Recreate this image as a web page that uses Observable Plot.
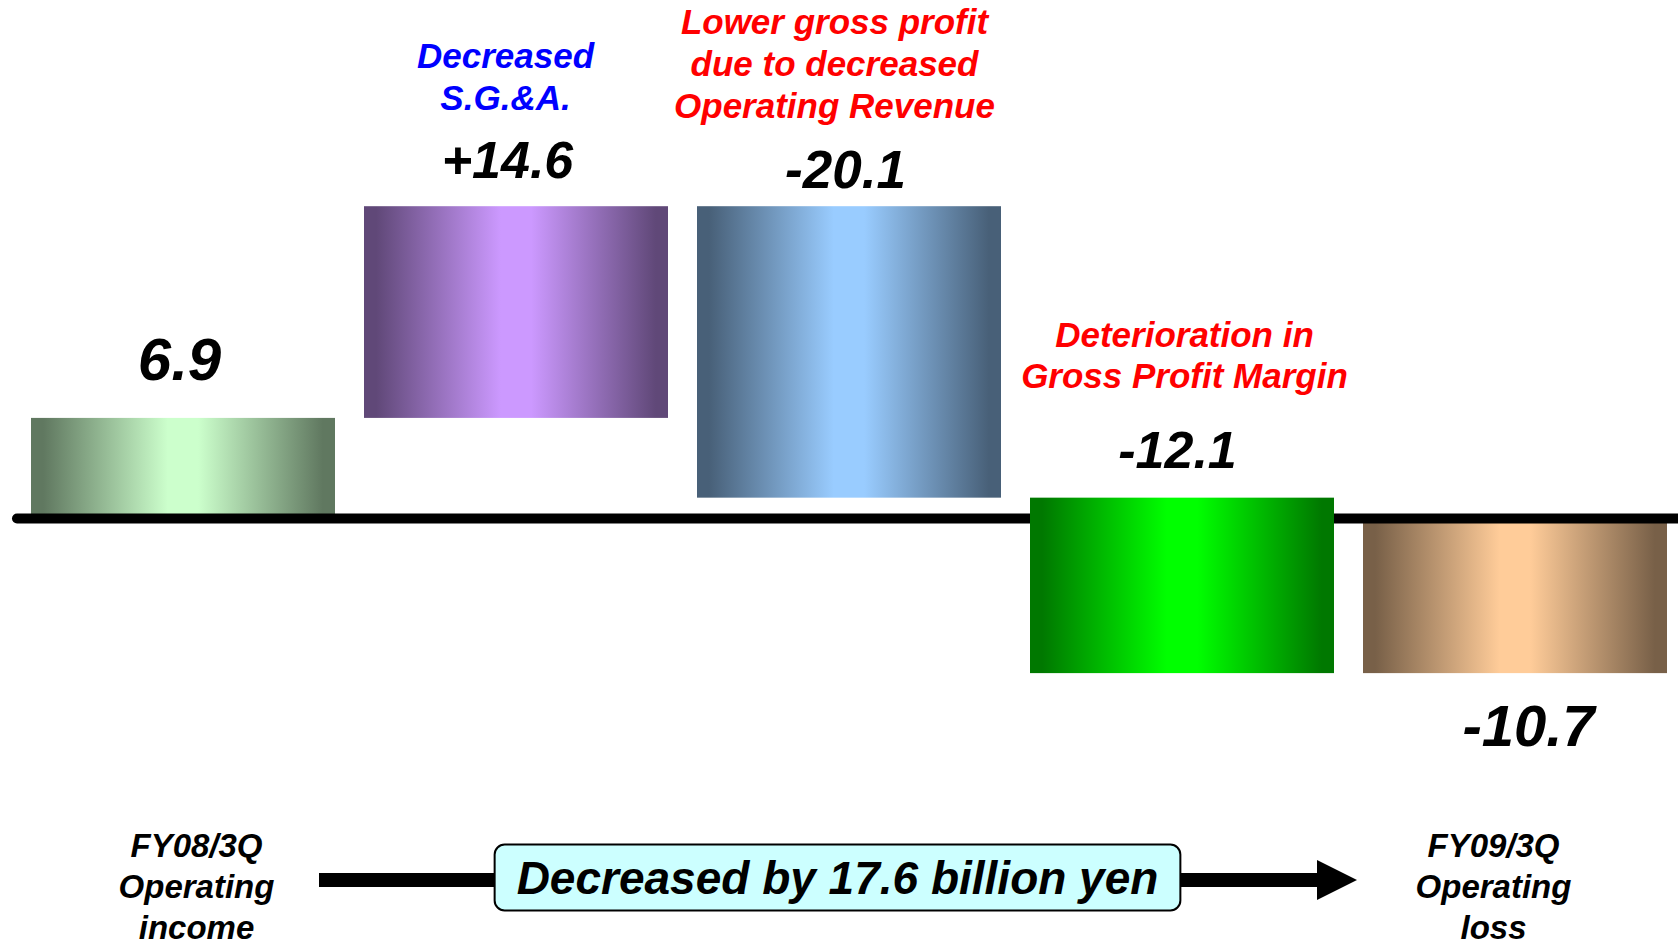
<!DOCTYPE html>
<html>
<head>
<meta charset="utf-8">
<script src="https://cdn.jsdelivr.net/npm/d3@7"></script>
<script src="https://cdn.jsdelivr.net/npm/@observablehq/plot@0.6"></script>
<style>
  html, body { margin: 0; padding: 0; background: #fff; }
  #chart svg { display: block; }
</style>
</head>
<body>
<div id="chart"></div>
<script>
// Operating income bridge, FY08/3Q -> FY09/3Q (billion yen)
const steps = [
  "FY08/3Q\nOperating\nincome",
  "Decreased\nS.G.&A.",
  "Lower gross profit\ndue to decreased\nOperating Revenue",
  "Deterioration in\nGross Profit Margin",
  "FY09/3Q\nOperating\nloss"
];
const amounts = [6.9, 14.6, -20.1, -12.1, -10.7];
const kinds = ["total", "change", "change", "change", "total"];
const valueLabels = ["6.9", "+14.6", "-20.1", "-12.1", "-10.7"];
const barColors = ["#ccffcc", "#cc99ff", "#99ccff", "#00ff00", "#ffcc99"];
const summary = "Decreased by 17.6 billion yen";

// Waterfall: totals start at zero, changes start where the previous bar ended
let running = 0;
const bars = steps.map((step, i) => {
  const isTotal = kinds[i] === "total";
  const start = isTotal ? 0 : running;
  const end = isTotal ? amounts[i] : running + amounts[i];
  running = end;
  return {
    step, kind: kinds[i], start, end,
    top: Math.max(start, end), bottom: Math.min(start, end),
    label: valueLabels[i], grad: `url(#wf-grad-${i})`
  };
});

const font = {fontFamily: "'Liberation Sans', Arial, sans-serif", fontWeight: "bold", fontStyle: "italic"};

// Cylinder-like shading: dark edges, light centre
function shade(c, k) {
  const r = d3.rgb(c);
  return d3.rgb(r.r * k, r.g * k, r.b * k).formatHex();
}
function gradientDefs() {
  const g = d3.create("svg:g");
  const defs = g.append("defs");
  barColors.forEach((c, i) => {
    const dark = shade(c, 0.47);
    const lg = defs.append("linearGradient")
      .attr("id", `wf-grad-${i}`).attr("x1", 0).attr("x2", 1).attr("y1", 0).attr("y2", 0);
    [[0, dark], [0.04, dark], [0.45, c], [0.55, c], [0.96, dark], [1, dark]].forEach(([o, col]) =>
      lg.append("stop").attr("offset", o).attr("stop-color", col));
  });
  return g.node();
}

// Value label above or below a bar
function valueLabel(i, where, dx, dy, fontSize) {
  return Plot.text([bars[i]], {
    x: "step", y: where, text: "label",
    dx, dy, fontSize, lineAnchor: "bottom", fill: "#000", ...font
  });
}

// Explanatory note above a change bar, using the step name
function note(i, fill, dx, dy) {
  return Plot.text([bars[i]], {
    x: "step", y: "top", text: "step",
    dx, dy, fontSize: 35, lineHeight: 1.19, lineAnchor: "bottom", fill, ...font
  });
}

// Period label under a total bar
function periodLabel(i, dx) {
  return Plot.text([bars[i]], {
    x: "step", text: "step", frameAnchor: "bottom",
    dx, dy: -7, fontSize: 33, lineHeight: 1.24, lineAnchor: "bottom", fill: "#000", ...font
  });
}

// Long arrow from the first period to the last one
function periodArrow(index, scales, values, dims) {
  const x = scales.x;
  const bw = x.bandwidth();
  const x0 = x(steps[0]) + bw / 2 + 136;
  const tip = x(steps[steps.length - 1]) + bw / 2 - 158;
  const y = dims.height - 65;
  const g = d3.create("svg:g");
  g.append("line")
    .attr("x1", x0).attr("x2", tip - 36).attr("y1", y).attr("y2", y)
    .attr("stroke", "#000").attr("stroke-width", 14);
  g.append("path")
    .attr("d", `M${tip},${y}L${tip - 40},${y - 20}L${tip - 40},${y + 20}Z`)
    .attr("fill", "#000");
  return g.node();
}

const plot = Plot.plot({
  width: 1678,
  height: 945,
  marginTop: 0, marginRight: 0, marginBottom: 0, marginLeft: 0,
  style: {background: "#fff"},
  x: {type: "band", domain: steps, range: [30, 1668], paddingInner: 0.0885, paddingOuter: 0, axis: null},
  y: {domain: [-29.45, 35.72], axis: null},
  color: {type: "identity"},
  marks: [
    gradientDefs,
    Plot.barY(bars.filter(d => d.kind === "total"), {x: "step", y1: "start", y2: "end", fill: "grad"}),
    Plot.ruleY([0], {stroke: "#000", strokeWidth: 10, strokeLinecap: "round", insetLeft: 17}),
    Plot.barY(bars.filter(d => d.kind === "change"), {x: "step", y1: "start", y2: "end", fill: "grad"}),

    valueLabel(0, "top", -4, -38, 60),
    valueLabel(1, "top", -9, -29, 52),
    valueLabel(2, "top", -4, -19, 53),
    valueLabel(3, "top", -5, -30, 52),
    valueLabel(4, "bottom", 13, 72, 58),

    note(1, "#0000ff", -11, -97),
    note(2, "#ff0000", -15, -89),
    note(3, "#ff0000", 2, -110),

    periodArrow,
    Plot.text([summary], {
      x: () => steps[2], text: d => d, frameAnchor: "bottom",
      dx: -12, dy: -52, fontSize: 46, lineAnchor: "bottom", fill: "#000", ...font
    }),

    periodLabel(0, 13),
    periodLabel(4, -22)
  ]
});

document.getElementById("chart").append(plot);

// Rounded callout box behind the summary text, sized to the rendered text
for (const t of plot.querySelectorAll("text")) {
  if (t.textContent !== summary) continue;
  const bb = t.getBBox();
  d3.select(t.parentNode).insert("rect", () => t)
    .attr("transform", t.getAttribute("transform"))
    .attr("x", bb.x - 22).attr("y", bb.y - 7)
    .attr("width", bb.width + 44).attr("height", bb.height + 14)
    .attr("rx", 10).attr("ry", 10)
    .attr("fill", "#ccffff").attr("stroke", "#000").attr("stroke-width", 2);
}
</script>
</body>
</html>
